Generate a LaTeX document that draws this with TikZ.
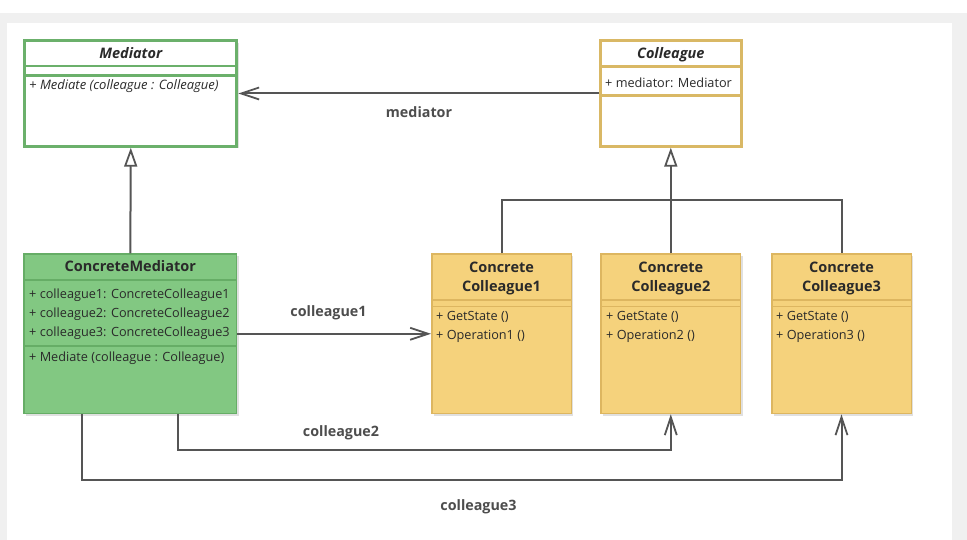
\documentclass[tikz,border=0pt]{standalone}
\usepackage{fontspec}
\setmainfont{Open Sans}
\usetikzlibrary{arrows.meta,shadows}
\definecolor{bggray}{HTML}{F0F0F0}
\definecolor{grnline}{HTML}{6BB06B}
\definecolor{grnfill}{HTML}{82C882}
\definecolor{grnline2}{HTML}{66AD66}
\definecolor{goldline}{HTML}{D9B865}
\definecolor{ylwfill}{HTML}{F5D27C}
\definecolor{ylwline}{HTML}{DDB660}
\definecolor{conn}{HTML}{555555}
\definecolor{txt}{HTML}{2A2A2A}
\definecolor{lbl}{HTML}{4D4D4D}
\tikzset{
  shad/.style={drop shadow={shadow xshift=2pt,shadow yshift=-2pt,opacity=0.12,fill=black}},
  absbox/.style={rectangle,draw=grnline,line width=3pt,fill=white,inner sep=0pt,shad},
  colbox/.style={rectangle,draw=goldline,line width=3pt,fill=white,inner sep=0pt,shad},
  cmbox/.style={rectangle,draw=grnline2,line width=1.5pt,fill=grnfill,inner sep=0pt,shad},
  ccbox/.style={rectangle,draw=ylwline,line width=1.5pt,fill=ylwfill,inner sep=0pt,shad},
  tx/.style={inner sep=0pt,text height=0.72em,text depth=0pt,yshift=-1.8pt},
  ttl/.style={tx,text=txt,font=\fontsize{14.5}{19.5}\selectfont\bfseries},
  ittl/.style={tx,text=txt,font=\fontsize{14.5}{17}\selectfont\bfseries\itshape},
  mem/.style={tx,anchor=west,text=txt,font=\fontsize{12.7}{15}\selectfont},
  imem/.style={tx,anchor=west,text=txt,font=\fontsize{13}{15}\selectfont\itshape},
  lab/.style={tx,text=lbl,font=\fontsize{14.3}{17}\selectfont\bfseries},
  assoc/.style={draw=conn,line width=2pt,-{Straight Barb[length=18pt,width=12pt,line width=1.8pt]}},
  inherit/.style={draw=conn,line width=2pt,-{Triangle[length=19pt,width=13pt,fill=white,line width=1.8pt]}},
  plain/.style={draw=conn,line width=2pt},
}
\begin{document}
\begin{tikzpicture}[x=1pt,y=-1pt]
\useasboundingbox (0,0) rectangle (967,540);
\fill[bggray] (0,13) rectangle (967,540);
\fill[white] (7,23) rectangle (952,540);

% boxes
\node[absbox,minimum width=212pt,minimum height=105.4pt] (med) at (130.8,93.5) {};
\node[colbox,minimum width=140.7pt,minimum height=105.4pt] (coll) at (670.8,93.5) {};
\node[cmbox,minimum width=212.5pt,minimum height=159.5pt] (cm) at (130.3,333.8) {};
\node[ccbox,minimum width=139.5pt,minimum height=159.5pt] (cc1) at (501.5,333.8) {};
\node[ccbox,minimum width=139.5pt,minimum height=159.5pt] (cc2) at (670.8,333.8) {};
\node[ccbox,minimum width=139.5pt,minimum height=159.5pt] (cc3) at (841.5,333.8) {};

% compartments
\draw[grnline,line width=2.5pt] (25,66) -- (237,66) (25,75.5) -- (237,75.5);
\draw[goldline,line width=3pt] (600.5,66.5) -- (741,66.5) (600.5,96) -- (741,96);
\draw[grnline2,line width=1.5pt] (24,279.8) -- (236.5,279.8) (24,346) -- (236.5,346);
\foreach \c/\x in {1/431.7,2/601,3/771.7}{
  \draw[ylwline,line width=1.5pt] (\x,300) -- ++(139.5,0) (\x,306.7) -- ++(139.5,0);
}

% texts
\node[ittl] (medT) at (130.8,53.3) {Mediator};
\node[imem] (medM) at (29,84) {+ Mediate (colleague : Colleague)};
\node[ittl] (collT) at (670.8,53.3) {Colleague};
\node[mem] (collA) at (605,82) {+ mediator: Mediator};
\node[ttl] (cmT) at (130.3,266.5) {ConcreteMediator};
\node[mem] (cmA1) at (29,293) {+ colleague1: ConcreteColleague1};
\node[mem] (cmA2) at (29,312) {+ colleague2: ConcreteColleague2};
\node[mem] (cmA3) at (29,331) {+ colleague3: ConcreteColleague3};
\node[mem] (cmM) at (29,356) {+ Mediate (colleague : Colleague)};
\node[ttl] (cc1T) at (501.5,266.7) {Concrete};
\node[ttl] (cc1U) at (501.5,286.2) {Colleague1};
\node[ttl] (cc2T) at (670.8,266.7) {Concrete};
\node[ttl] (cc2U) at (670.8,286.2) {Colleague2};
\node[ttl] (cc3T) at (841.5,266.7) {Concrete};
\node[ttl] (cc3U) at (841.5,286.2) {Colleague3};
\node[mem] (cc1a) at (436,315) {+ GetState ()};
\node[mem] (cc1b) at (436,334) {+ Operation1 ()};
\node[mem] (cc2a) at (606,315) {+ GetState ()};
\node[mem] (cc2b) at (606,334) {+ Operation2 ()};
\node[mem] (cc3a) at (776,315) {+ GetState ()};
\node[mem] (cc3b) at (776,334) {+ Operation3 ()};

% connectors
\draw[assoc] (coll.west) -- (med.east);
\node[lab] (lmed) at (419,112.5) {mediator};
\draw[inherit] (cm.north) -- (med.south);
\coordinate (bar) at (670.8,200);
\draw[plain] (cc1.north) |- (bar) -| (cc3.north);
\draw[inherit] (cc2.north) -- (coll.south);
\draw[assoc] (cm.east) -- (cc1.west);
\node[lab] (lc1) at (328.5,311.5) {colleague1};
\draw[assoc] ([xshift=48pt]cm.south) -- ++(0,36) -| (cc2.south);
\node[lab] (lc2) at (341,431) {colleague2};
\draw[assoc] ([xshift=-48pt]cm.south) -- ++(0,65.5) -| (cc3.south);
\node[lab] (lc3) at (478.5,505.5) {colleague3};
\end{tikzpicture}
\end{document}
